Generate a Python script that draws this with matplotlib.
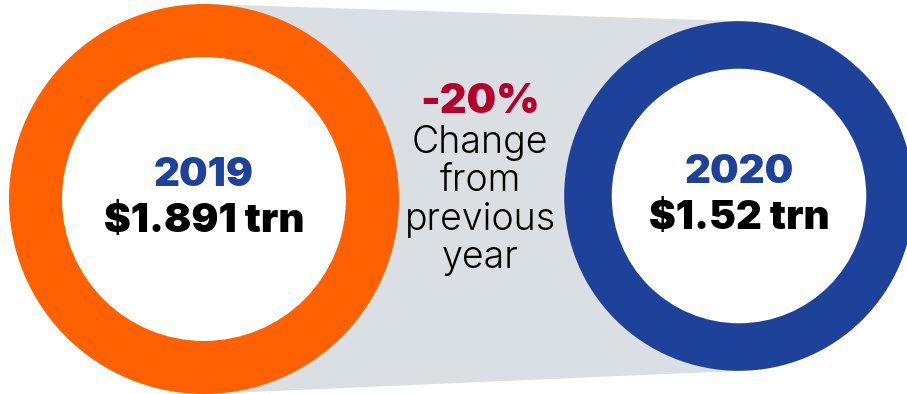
import numpy as np
import matplotlib.pyplot as plt
from matplotlib.patches import Circle, Polygon

# data
years = ["2019", "2020"]
values = [1.891, 1.52]          # trillion $
value_labels = ["$1.891 trn", "$1.52 trn"]
change_pct = -20
change_text = ["Change", "from", "previous", "year"]

# colours
ring_colors = ["#ff6100", "#1e419a"]
gray = "#dadfe3"
red = "#b4002b"
blue = "#1e419a"

W, H = 907, 394
fig = plt.figure(figsize=(W / 100, H / 100), dpi=100)
ax = fig.add_axes([0, 0, 1, 1])
ax.set_xlim(0, W)
ax.set_ylim(H, 0)
ax.set_aspect("equal")
ax.axis("off")

# ring size from value (area ~ value)
centers = [(204, 199), (739, 196)]
r_max = 195
radii = [r_max * np.sqrt(v / max(values)) for v in values]
inner_frac = 0.728

# gray band joining the two rings
(x1, y1), (x2, y2) = centers
band = Polygon([(x1, y1 - radii[0]), (x2, y2 - radii[1]),
                (x2, y2 + radii[1]), (x1, y1 + radii[0])],
               closed=True, facecolor=gray, edgecolor="none", zorder=1)
ax.add_patch(band)

for (cx, cy), r, col in zip(centers, radii, ring_colors):
    ax.add_patch(Circle((cx, cy), r, facecolor=col, edgecolor="none", zorder=2))
    ax.add_patch(Circle((cx, cy), r * inner_frac, facecolor="white", edgecolor="none", zorder=3))

bold = dict(family="Inter", fontweight=900, ha="center", zorder=4)
for (cx, cy), yr, lab in zip(centers, years, value_labels):
    ax.text(cx, cy - 13, yr, color=blue, fontsize=29, va="baseline", **bold)
    ax.text(cx, cy + 33, lab, color="black", fontsize=29, va="baseline", **bold)

# middle text
mx = 480
ax.text(mx, 113, f"{change_pct}%", color=red, fontsize=30, va="baseline", **bold)
for i, t in enumerate(change_text):
    ax.text(mx, 153 + i * 38.3, t, color="black", fontsize=27, family="Inter",
            fontweight=300, ha="center", va="baseline", zorder=4)

fig.savefig("out.png", dpi=100)
